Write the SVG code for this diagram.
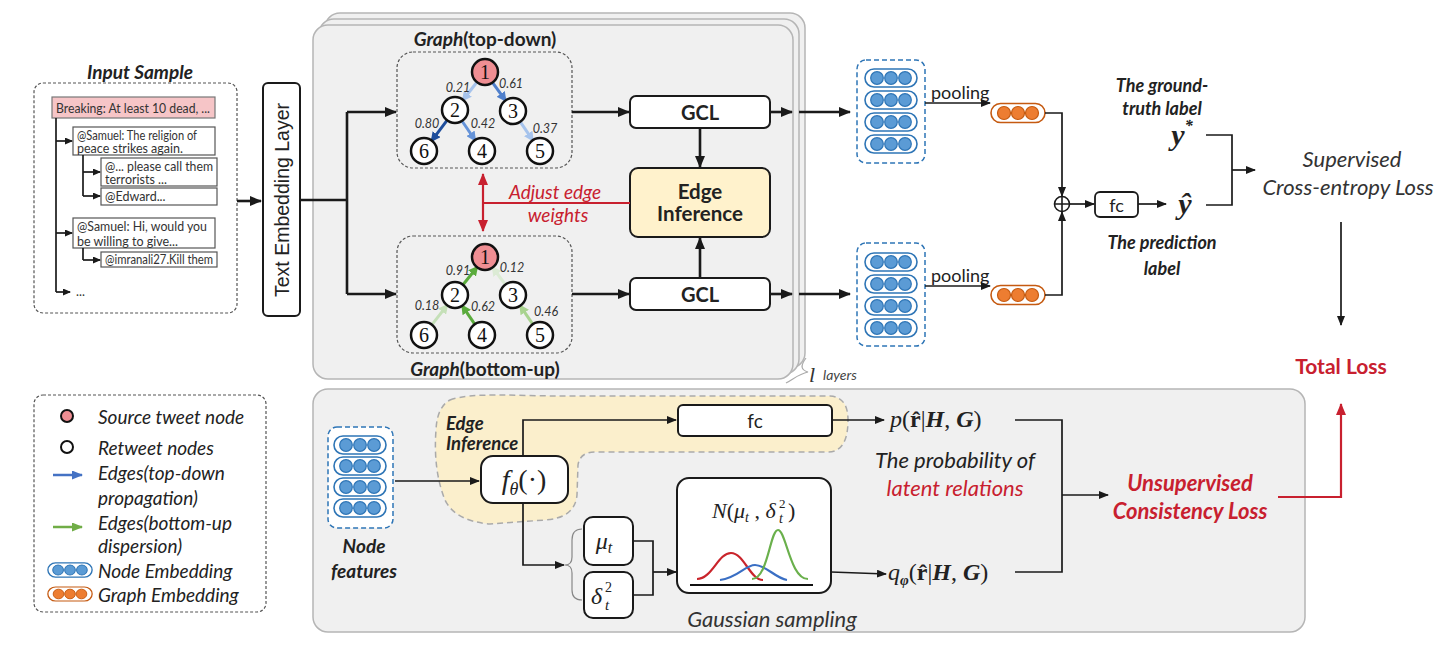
<svg xmlns="http://www.w3.org/2000/svg" width="1452" height="659" viewBox="0 0 1452 659">
<defs>
<style>
.sans{font-family:Lato,"Liberation Sans",sans-serif}
.ser{font-family:"Liberation Serif","DejaVu Serif",serif}
.c{text-anchor:middle;dominant-baseline:central}
.ln{fill:none;stroke:#1a1a1a;stroke-width:2.6}
.ln2{fill:none;stroke:#1a1a1a;stroke-width:1.7}
.red{fill:none;stroke:#c8202f;stroke-width:2.2}
.dash{fill:none;stroke:#555;stroke-width:1.2;stroke-dasharray:3 2}
.box{fill:#fff;stroke:#1a1a1a;stroke-width:2}
.tbox{fill:#fff;stroke:#555;stroke-width:1.2}
.panel{fill:#f0f0f0;stroke:#b5b5b5;stroke-width:1.5}
.node{fill:#fff;stroke:#111;stroke-width:2.5}
.src{fill:#ef8e93;stroke:#111;stroke-width:2.5}
.num{font-family:"Liberation Serif",serif;font-size:20px;text-anchor:middle;dominant-baseline:central;fill:#111}
.w{font-family:Lato,"Liberation Sans",sans-serif;font-style:italic;font-size:12.5px;fill:#333;text-anchor:middle;dominant-baseline:central}
.tw{font-family:Lato,"Liberation Sans",sans-serif;font-size:12.5px;fill:#333;dominant-baseline:central}
.leg{font-family:Lato,"Liberation Sans",sans-serif;font-style:italic;font-size:19px;fill:#222;dominant-baseline:central}
.bi{font-family:Lato,"Liberation Sans",sans-serif;font-style:italic;font-weight:700}
.e{fill:none;stroke-width:3}
</style>
<marker id="ah" markerUnits="userSpaceOnUse" markerWidth="12" markerHeight="10" refX="11" refY="5" orient="auto"><path d="M0,0 L12,5 L0,10 z" fill="#1a1a1a"/></marker>
<marker id="ahs" markerUnits="userSpaceOnUse" markerWidth="10" markerHeight="8" refX="9" refY="4" orient="auto"><path d="M0,0 L10,4 L0,8 z" fill="#1a1a1a"/></marker>
<marker id="aht" markerUnits="userSpaceOnUse" markerWidth="8" markerHeight="7" refX="7" refY="3.5" orient="auto"><path d="M0,0 L8,3.5 L0,7 z" fill="#1a1a1a"/></marker>
<marker id="ahr" markerUnits="userSpaceOnUse" markerWidth="12" markerHeight="10" refX="11" refY="5" orient="auto-start-reverse"><path d="M0,0 L12,5 L0,10 z" fill="#c8202f"/></marker>
<marker id="bL" markerUnits="userSpaceOnUse" markerWidth="10" markerHeight="10" refX="8" refY="5" orient="auto"><path d="M0,0 L10,5 L0,10 z" fill="#a6c3ec"/></marker>
<marker id="bM" markerUnits="userSpaceOnUse" markerWidth="10" markerHeight="10" refX="8" refY="5" orient="auto"><path d="M0,0 L10,5 L0,10 z" fill="#4f7fcb"/></marker>
<marker id="bD" markerUnits="userSpaceOnUse" markerWidth="10" markerHeight="10" refX="8" refY="5" orient="auto"><path d="M0,0 L10,5 L0,10 z" fill="#1f4e9c"/></marker>
<marker id="bX" markerUnits="userSpaceOnUse" markerWidth="10" markerHeight="10" refX="8" refY="5" orient="auto"><path d="M0,0 L10,5 L0,10 z" fill="#6593d8"/></marker>
<marker id="gS" markerUnits="userSpaceOnUse" markerWidth="10" markerHeight="10" refX="8" refY="5" orient="auto"><path d="M0,0 L10,5 L0,10 z" fill="#5aab3c"/></marker>
<marker id="gL" markerUnits="userSpaceOnUse" markerWidth="10" markerHeight="10" refX="8" refY="5" orient="auto"><path d="M0,0 L10,5 L0,10 z" fill="#c5e0b8"/></marker>
<marker id="gV" markerUnits="userSpaceOnUse" markerWidth="10" markerHeight="10" refX="8" refY="5" orient="auto"><path d="M0,0 L10,5 L0,10 z" fill="#dcebd5"/></marker>
<marker id="gM" markerUnits="userSpaceOnUse" markerWidth="10" markerHeight="10" refX="8" refY="5" orient="auto"><path d="M0,0 L10,5 L0,10 z" fill="#a9d38f"/></marker>
<marker id="lgB" markerUnits="userSpaceOnUse" markerWidth="11" markerHeight="9" refX="10" refY="4.5" orient="auto"><path d="M0,0 L11,4.5 L0,9 z" fill="#4472c4"/></marker>
<marker id="lgG" markerUnits="userSpaceOnUse" markerWidth="11" markerHeight="9" refX="10" refY="4.5" orient="auto"><path d="M0,0 L11,4.5 L0,9 z" fill="#70ad47"/></marker>
<g id="pillB">
<rect x="-26" y="-9" width="52" height="18" rx="9" fill="#fff" stroke="#2e75b6" stroke-width="1.6"/>
<circle cx="-14" cy="0" r="6.3" fill="#5b9bd5" stroke="#2e75b6" stroke-width="1.2"/>
<circle cx="0" cy="0" r="6.3" fill="#5b9bd5" stroke="#2e75b6" stroke-width="1.2"/>
<circle cx="14" cy="0" r="6.3" fill="#5b9bd5" stroke="#2e75b6" stroke-width="1.2"/>
</g>
<g id="pillO">
<rect x="-27" y="-9.5" width="54" height="19" rx="9.5" fill="#fff" stroke="#c55a11" stroke-width="1.6"/>
<circle cx="-14" cy="0" r="6.5" fill="#ed7d31" stroke="#c55a11" stroke-width="1.2"/>
<circle cx="0" cy="0" r="6.5" fill="#ed7d31" stroke="#c55a11" stroke-width="1.2"/>
<circle cx="14" cy="0" r="6.5" fill="#ed7d31" stroke="#c55a11" stroke-width="1.2"/>
</g>
</defs>

<rect width="1452" height="659" fill="#fff"/>

<!-- layered panels -->
<g id="layer-panels">
<rect x="325" y="13" width="480" height="355" rx="15" class="panel"/>
<rect x="319" y="19" width="480" height="355" rx="15" class="panel"/>
<rect x="313" y="25" width="480" height="354" rx="15" class="panel"/>
<path d="M806,358 C800,366 801,370 808,372 C799,374 795,378 786,383" fill="none" stroke="#aaa" stroke-width="1.2"/>
<text x="809" y="382" class="ser" font-style="italic" font-size="22" fill="#333">l</text>
<text x="823" y="380" class="sans" font-style="italic" font-size="14" fill="#444">layers</text>
</g>

<!-- bottom panel -->
<g id="bottom-panel">
<rect x="313" y="389" width="992" height="243" rx="15" class="panel"/>
<path d="M450,400 C470,392 520,396 560,396 L830,396 Q848,397 848,420 Q848,452 828,452 L595,452 Q580,452 578,465 L577,495 Q575,518 545,520 L490,524 Q455,521 445,500 Q433,470 436,430 Q437,407 450,400 Z" fill="#fbefcc" stroke="#aaa" stroke-width="1.5" stroke-dasharray="6 4"/>
</g>

<!-- Input sample -->
<g id="input-sample">
<text x="140" y="71" class="c bi" font-size="19" fill="#222">Input Sample</text>
<rect x="34" y="83" width="203" height="230" rx="9" class="dash"/>
<rect x="52" y="97" width="163" height="21" fill="#f6c5c7" stroke="#777" stroke-width="1.2"/>
<text x="56" y="108" class="tw" font-size="13.5" textLength="154" lengthAdjust="spacingAndGlyphs">Breaking: At least 10 dead, ...</text>
<rect x="73" y="127" width="142" height="28" class="tbox"/>
<text x="77" y="135" class="tw" textLength="120" lengthAdjust="spacingAndGlyphs">@Samuel: The religion of</text>
<text x="77" y="148" class="tw">peace strikes again.</text>
<rect x="101" y="158" width="116" height="28" class="tbox"/>
<text x="105" y="166" class="tw" textLength="108" lengthAdjust="spacingAndGlyphs">@... please call them</text>
<text x="105" y="179" class="tw">terrorists ...</text>
<rect x="101" y="188" width="116" height="17" class="tbox"/>
<text x="105" y="196.5" class="tw">@Edward...</text>
<rect x="73" y="218" width="142" height="30" class="tbox"/>
<text x="77" y="226" class="tw" font-size="13.5" textLength="130" lengthAdjust="spacingAndGlyphs">@Samuel: Hi, would you</text>
<text x="77" y="241" class="tw" font-size="13.5">be willing to give...</text>
<rect x="101" y="252" width="116" height="15" class="tbox"/>
<text x="105" y="259.5" class="tw" textLength="108" lengthAdjust="spacingAndGlyphs">@imranali27.Kill them</text>
<text x="76" y="291" class="tw">...</text>
</g>

<!-- Text embedding -->
<g id="text-embedding">
<rect x="263" y="83" width="37" height="233" rx="5" class="box"/>
<text transform="translate(282,200) rotate(-90)" class="c" font-family="'Liberation Sans',Arial,sans-serif" font-size="19.5" fill="#222">Text Embedding Layer</text>
</g>

<!-- Graph top-down -->
<g id="graph-top-down">
<text x="485" y="38" class="c sans" font-weight="700" font-size="19" fill="#222"><tspan font-style="italic">Graph</tspan>(top-down)</text>
<rect x="397" y="52" width="175" height="116" rx="16" class="dash"/>
<line x1="477" y1="82" x2="463" y2="100" class="e" stroke="#a6c3ec" marker-end="url(#bL)"/>
<line x1="492.6" y1="82.6" x2="505.4" y2="100.4" class="e" stroke="#4f7fcb" marker-end="url(#bM)"/>
<line x1="447" y1="120.4" x2="431.8" y2="140.6" class="e" stroke="#1f4e9c" marker-end="url(#bD)"/>
<line x1="462" y1="121" x2="475" y2="140" class="e" stroke="#6593d8" marker-end="url(#bX)"/>
<line x1="520.3" y1="121.8" x2="532.7" y2="140.2" class="e" stroke="#a6c3ec" marker-end="url(#bL)"/>
<circle cx="485" cy="72" r="13" class="src"/><text x="485" y="72" class="num">1</text>
<circle cx="455" cy="110" r="13" class="node"/><text x="455" y="110" class="num">2</text>
<circle cx="513" cy="111" r="13" class="node"/><text x="513" y="111" class="num">3</text>
<circle cx="424" cy="151" r="13" class="node"/><text x="424" y="151" class="num">6</text>
<circle cx="482" cy="151" r="13" class="node"/><text x="482" y="151" class="num">4</text>
<circle cx="540" cy="151" r="13" class="node"/><text x="540" y="151" class="num">5</text>
<text x="458" y="87" class="w">0.21</text>
<text x="511" y="83" class="w">0.61</text>
<text x="427" y="123" class="w">0.80</text>
<text x="483" y="123" class="w">0.42</text>
<text x="545" y="128" class="w">0.37</text>
</g>

<!-- Graph bottom-up -->
<g id="graph-bottom-up">
<rect x="397" y="236" width="175" height="117" rx="16" class="dash"/>
<line x1="463" y1="284.8" x2="477" y2="267.2" class="e" stroke="#5aab3c" marker-end="url(#gS)"/>
<line x1="505.3" y1="284.5" x2="492.7" y2="267.5" class="e" stroke="#dcebd5" marker-end="url(#gV)"/>
<line x1="432" y1="324.7" x2="447" y2="305.3" class="e" stroke="#c5e0b8" marker-end="url(#gL)"/>
<line x1="474.7" y1="324.2" x2="462.3" y2="305.8" class="e" stroke="#5aab3c" marker-end="url(#gS)"/>
<line x1="532.7" y1="324.2" x2="520.3" y2="305.8" class="e" stroke="#a9d38f" marker-end="url(#gM)"/>
<circle cx="485" cy="257" r="13" class="src"/><text x="485" y="257" class="num">1</text>
<circle cx="455" cy="295" r="13" class="node"/><text x="455" y="295" class="num">2</text>
<circle cx="513" cy="295" r="13" class="node"/><text x="513" y="295" class="num">3</text>
<circle cx="424" cy="335" r="13" class="node"/><text x="424" y="335" class="num">6</text>
<circle cx="482" cy="335" r="13" class="node"/><text x="482" y="335" class="num">4</text>
<circle cx="540" cy="335" r="13" class="node"/><text x="540" y="335" class="num">5</text>
<text x="458" y="270" class="w">0.91</text>
<text x="512" y="267" class="w">0.12</text>
<text x="427" y="305" class="w">0.18</text>
<text x="483" y="306" class="w">0.62</text>
<text x="546" y="311" class="w">0.46</text>
<text x="485" y="368" class="c sans" font-weight="700" font-size="19" fill="#222"><tspan font-style="italic">Graph</tspan>(bottom-up)</text>
</g>

<!-- GCL and Edge inference -->
<g id="gcl-top"><rect x="630" y="96" width="140" height="32" rx="6" class="box"/><text x="700" y="112" class="c sans" font-weight="700" font-size="20" fill="#222">GCL</text></g>
<g id="gcl-bottom"><rect x="630" y="278" width="140" height="32" rx="6" class="box"/><text x="700" y="294" class="c sans" font-weight="700" font-size="20" fill="#222">GCL</text></g>
<g id="edge-inference"><rect x="630" y="168" width="140" height="69" rx="8" fill="#fff2cc" stroke="#1a1a1a" stroke-width="2"/>
<text x="700" y="191" class="c sans" font-weight="700" font-size="20.5" fill="#222">Edge</text>
<text x="700" y="213" class="c sans" font-weight="700" font-size="20.5" fill="#222">Inference</text></g>

<!-- Node embedding stacks -->
<g id="node-emb-top">
<rect x="857" y="60" width="68" height="103" rx="9" fill="#fff" stroke="#2e75b6" stroke-width="1.5" stroke-dasharray="5 3"/>
<use href="#pillB" x="891" y="78"/><use href="#pillB" x="891" y="100"/><use href="#pillB" x="891" y="122"/><use href="#pillB" x="891" y="144"/>
</g>
<g id="node-emb-bottom">
<rect x="857" y="243" width="68" height="103" rx="9" fill="#fff" stroke="#2e75b6" stroke-width="1.5" stroke-dasharray="5 3"/>
<use href="#pillB" x="891" y="262"/><use href="#pillB" x="891" y="284"/><use href="#pillB" x="891" y="306"/><use href="#pillB" x="891" y="328"/>
</g>
<g id="graph-emb-top"><use href="#pillO" x="1018" y="113"/></g>
<g id="graph-emb-bottom"><use href="#pillO" x="1018" y="295"/></g>
<g id="pool-labels">
<text x="931" y="92" class="sans" font-size="18" fill="#222" dominant-baseline="central">pooling</text>
<text x="931" y="275" class="sans" font-size="18" fill="#222" dominant-baseline="central">pooling</text>
</g>

<g id="oplus"><circle cx="1062" cy="204" r="7.5" fill="#fff" stroke="#1a1a1a" stroke-width="1.6"/><path d="M1054.5,204 H1069.5 M1062,196.5 V211.5" stroke="#1a1a1a" stroke-width="1.6"/></g>
<g id="fc-top"><rect x="1095" y="192" width="43" height="25" rx="5" fill="#fff" stroke="#1a1a1a" stroke-width="1.8"/><text x="1116.5" y="204.5" class="c sans" font-size="18" fill="#222">fc</text></g>

<g id="labels-right">
<text x="1162" y="85" class="c bi" font-size="18" fill="#222">The ground-</text>
<text x="1162" y="108" class="c bi" font-size="18" fill="#222">truth label</text>
<text x="1182" y="145" class="ser" font-style="italic" font-weight="700" font-size="30" fill="#222" text-anchor="middle">y<tspan font-size="16" dy="-14">*</tspan></text>
<text x="1185" y="214" class="ser" font-style="italic" font-weight="700" font-size="30" fill="#222" text-anchor="middle">ŷ</text>
<text x="1162" y="242" class="c bi" font-size="18" fill="#222">The prediction</text>
<text x="1162" y="268" class="c bi" font-size="18" fill="#222">label</text>
<text x="1352" y="158" class="c sans" font-style="italic" font-size="22" fill="#333">Supervised</text>
<text x="1348" y="186" class="c sans" font-style="italic" font-size="22" fill="#333">Cross-entropy Loss</text>
<text x="1341" y="365" class="c sans" font-weight="700" font-size="21" fill="#c8202f">Total Loss</text>
</g>

<!-- Legend -->
<g id="legend">
<rect x="34" y="395" width="232" height="217" rx="9" class="dash"/>
<circle cx="67" cy="416" r="6" fill="#ef8e93" stroke="#111" stroke-width="2"/>
<text x="98" y="416" class="leg">Source tweet node</text>
<circle cx="67" cy="447" r="6" fill="#fff" stroke="#111" stroke-width="2"/>
<text x="98" y="447" class="leg">Retweet nodes</text>
<line x1="53" y1="475" x2="82" y2="475" stroke="#4472c4" stroke-width="2.5" marker-end="url(#lgB)"/>
<text x="98" y="472" class="leg">Edges(top-down</text>
<text x="98" y="497" class="leg">propagation)</text>
<line x1="53" y1="527" x2="82" y2="527" stroke="#70ad47" stroke-width="2.5" marker-end="url(#lgG)"/>
<text x="98" y="522" class="leg">Edges(bottom-up</text>
<text x="98" y="545" class="leg">dispersion)</text>
<use href="#pillB" transform="translate(70,570) scale(0.85,0.78)"/>
<text x="98" y="570" class="leg">Node Embedding</text>
<use href="#pillO" transform="translate(70,594) scale(0.82,0.74)"/>
<text x="98" y="594" class="leg">Graph Embedding</text>
</g>

<!-- Bottom panel nodes -->
<g id="node-features">
<rect x="328" y="427" width="65" height="101" rx="9" fill="#fff" stroke="#2e75b6" stroke-width="1.5" stroke-dasharray="5 3"/>
<use href="#pillB" x="360" y="445"/><use href="#pillB" x="360" y="466"/><use href="#pillB" x="360" y="487"/><use href="#pillB" x="360" y="508"/>
<text x="364" y="545" class="c bi" font-size="19" fill="#222">Node</text>
<text x="364" y="570" class="c bi" font-size="19" fill="#222">features</text>
</g>
<g id="edge-inference-label">
<text x="446" y="423" class="bi" font-size="18.5" fill="#222" dominant-baseline="central">Edge</text>
<text x="446" y="443" class="bi" font-size="18.5" fill="#222" dominant-baseline="central">Inference</text>
</g>
<g id="f-theta"><rect x="481" y="456" width="87" height="47" rx="12" class="box"/>
<text x="524" y="489" text-anchor="middle" class="ser" font-size="28" fill="#222"><tspan font-style="italic">f</tspan><tspan font-style="italic" font-size="18" dy="6">θ</tspan><tspan dy="-6">(·)</tspan></text></g>
<g id="fc-bottom"><rect x="678" y="405" width="154" height="31" rx="5" class="box"/><text x="755" y="420.5" class="c sans" font-size="19" fill="#222">fc</text></g>
<g id="mu"><rect x="584" y="517" width="49" height="48" rx="9" class="box"/>
<text x="604" y="549" text-anchor="middle" class="ser" font-style="italic" font-size="24" fill="#222">μ<tspan font-size="16" dy="4">t</tspan></text></g>
<g id="delta"><rect x="584" y="572" width="49" height="46" rx="9" class="box"/>
<text x="591" y="604" class="ser" font-style="italic" font-size="24" fill="#222">δ</text>
<text x="605" y="592" class="ser" font-size="14" fill="#222">2</text>
<text x="605" y="610" class="ser" font-style="italic" font-size="15" fill="#222">t</text></g>
<path id="brace" d="M582,529 Q572,529 572,540 L572,557 Q572,565 565,565 Q572,565 572,573 L572,590 Q572,600 582,600" fill="none" stroke="#888" stroke-width="1.2"/>
<g id="gaussian"><rect x="677" y="478" width="154" height="115" rx="12" class="box"/>
<text x="712" y="518" class="ser" font-size="22" fill="#222"><tspan font-style="italic">N</tspan>(<tspan font-style="italic">μ</tspan><tspan font-style="italic" font-size="14" dy="4">t</tspan><tspan dy="-4"> , </tspan><tspan font-style="italic">δ</tspan></text>
<text x="779" y="523" class="ser" font-style="italic" font-size="14" fill="#222">t</text>
<text x="779" y="508" class="ser" font-size="13" fill="#222">2</text>
<text x="788" y="518" class="ser" font-size="22" fill="#222">)</text>
<path d="M697,579 C712,579 718,553 731,553 C744,553 750,580 763,580" fill="none" stroke="#c9242b" stroke-width="2.2"/>
<path d="M720,580 C738,578 745,565 755,565 C766,565 775,578 787,580" fill="none" stroke="#3a6fc4" stroke-width="2.2"/>
<path d="M752,579 C768,579 770,530 778,530 C786,530 790,579 808,579" fill="none" stroke="#6ab04c" stroke-width="2.2"/>
<line x1="690" y1="585" x2="813" y2="585" stroke="#111" stroke-width="2"/>
<text x="772" y="618" class="c sans" font-style="italic" font-size="22" fill="#333">Gaussian sampling</text></g>
<g id="prob-texts">
<text x="890" y="427" class="ser" font-size="24" fill="#222"><tspan font-style="italic">p</tspan>(<tspan font-weight="700">r̂</tspan>|<tspan font-weight="700" font-style="italic">H</tspan>, <tspan font-weight="700" font-style="italic">G</tspan>)</text>
<text x="955" y="459" class="c sans" font-style="italic" font-size="22" fill="#222">The probability of</text>
<text x="955" y="487" class="c sans" font-style="italic" font-size="22" fill="#c8202f">latent relations</text>
<text x="888" y="580" class="ser" font-size="24" fill="#222"><tspan font-style="italic">q</tspan><tspan font-style="italic" font-weight="700" font-size="15" dy="5">φ</tspan><tspan dy="-5">(</tspan><tspan font-weight="700">r̂</tspan>|<tspan font-weight="700" font-style="italic">H</tspan>, <tspan font-weight="700" font-style="italic">G</tspan>)</text>
<text x="1190" y="482" class="c bi" font-size="22" fill="#c8202f">Unsupervised</text>
<text x="1190" y="510" class="c bi" font-size="22" fill="#c8202f">Consistency Loss</text>
</g>

<!-- connectors -->
<g id="connectors">
<g class="ln2">
<path d="M56,118 V292"/>
<path d="M56,141 H72" marker-end="url(#aht)"/>
<path d="M56,233 H72" marker-end="url(#aht)"/>
<path d="M56,292 H70" marker-end="url(#aht)"/>
<path d="M83,155 V196"/>
<path d="M83,172 H100" marker-end="url(#aht)"/>
<path d="M83,196 H100" marker-end="url(#aht)"/>
<path d="M83,248 V260"/>
<path d="M83,260 H100" marker-end="url(#aht)"/>
</g>
<path d="M237,201 H261" class="ln" stroke-width="3" marker-end="url(#ah)"/>
<path d="M300,200 H347 M347,112 V294" class="ln" stroke-width="3"/>
<path d="M347,112 H396" class="ln" stroke-width="3" marker-end="url(#ah)"/>
<path d="M347,294 H396" class="ln" stroke-width="3" marker-end="url(#ah)"/>
<path d="M572,112 H629" class="ln" marker-end="url(#ah)"/>
<path d="M572,294 H629" class="ln" marker-end="url(#ah)"/>
<path d="M700,128 V167" class="ln" marker-end="url(#ah)"/>
<path d="M700,278 V238" class="ln" marker-end="url(#ah)"/>
<path d="M770,112 H792" class="ln" marker-end="url(#ah)"/>
<path d="M770,294 H792" class="ln" marker-end="url(#ah)"/>
<path d="M799,112 H850" class="ln" marker-end="url(#ah)"/>
<path d="M799,294 H850" class="ln" marker-end="url(#ah)"/>
<path d="M925,103 H990" class="ln2" stroke-width="2" marker-end="url(#ahs)"/>
<path d="M925,286 H990" class="ln2" stroke-width="2" marker-end="url(#ahs)"/>
<path d="M1045,113 H1062 V196" class="ln2" stroke-width="2" marker-end="url(#ahs)"/>
<path d="M1045,295 H1062 V212" class="ln2" stroke-width="2" marker-end="url(#ahs)"/>
<path d="M1069.5,204 H1094" class="ln2" stroke-width="2" marker-end="url(#ahs)"/>
<path d="M1138,204 H1166" class="ln2" stroke-width="2" marker-end="url(#ahs)"/>
<path d="M1206,135 H1232 V205 H1206" class="ln2" stroke-width="2.2"/>
<path d="M1232,170 H1255" class="ln2" stroke-width="2.2" marker-end="url(#ahs)"/>
<path d="M1341,222 V325" class="ln2" stroke-width="2.2" marker-end="url(#ahs)"/>
<path d="M483,174 V231" class="red" marker-start="url(#ahr)" marker-end="url(#ahr)"/>
<path d="M483,203 H630" class="red" stroke-width="1.8"/>
<text x="555" y="191" class="c sans" font-style="italic" font-size="19" fill="#c8202f">Adjust edge</text>
<text x="558" y="214" class="c sans" font-style="italic" font-size="19" fill="#c8202f">weights</text>
<path d="M395,481 H479" class="ln2" stroke-width="2" marker-end="url(#ahs)"/>
<path d="M523,456 V420 H676" class="ln2" marker-end="url(#ahs)"/>
<path d="M832,420 H884" class="ln2" marker-end="url(#ahs)"/>
<path d="M523,503 V565 H564" class="ln2" marker-end="url(#ahs)"/>
<path d="M633,541 H653 V595 H633" class="ln2"/>
<path d="M653,572 H676" class="ln2" marker-end="url(#ahs)"/>
<path d="M831,572 L886,574" class="ln2" marker-end="url(#ahs)"/>
<path d="M1015,420 H1062 V572 H1015" class="ln2"/>
<path d="M1062,495 H1108" class="ln2" marker-end="url(#ahs)"/>
<path d="M1278,497 H1341 V404" class="red" stroke-width="2.5" marker-end="url(#ahr)"/>
</g>
</svg>
